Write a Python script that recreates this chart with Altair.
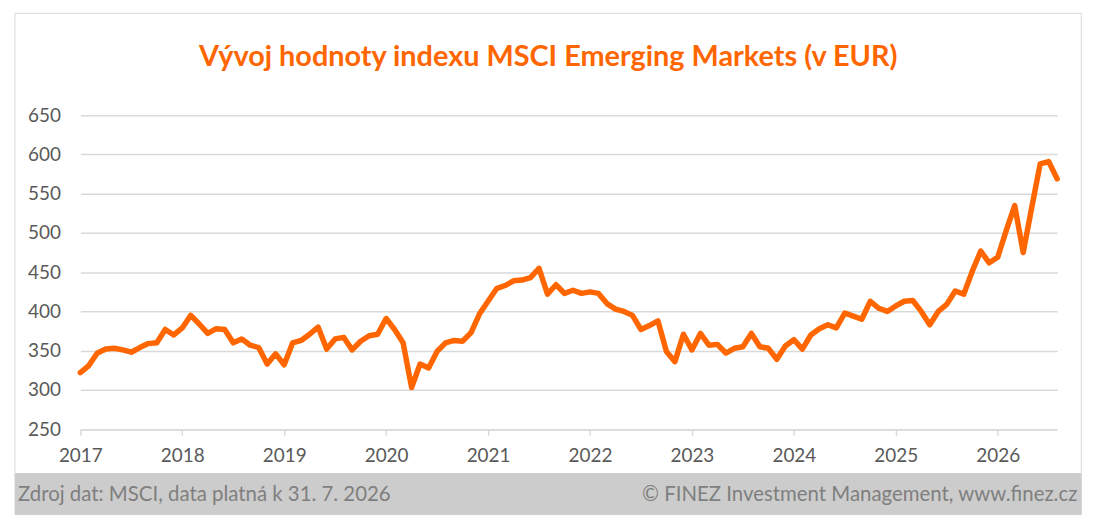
import altair as alt
import pandas as pd

# ---- data (monthly index values, Jan 2017 .. Jul/Aug 2026) ----
years = list(range(2017, 2027))
values = [
    322, 331, 347, 352, 353, 351, 348, 354, 359, 360, 377, 370, 379, 395, 384, 372, 378, 377, 360, 365, 357,
    354, 333, 346, 332, 360, 363, 371, 380, 352, 365, 367, 351, 362, 369, 371, 391, 377, 360, 303,
    333, 328, 349, 360, 363, 362, 373, 397, 413, 429, 433, 439, 440, 443, 455, 422, 434, 423, 427, 423,
    425, 423, 410, 403, 400, 395, 377, 382, 388, 349, 336, 371, 351, 372, 357, 358, 347, 353, 355, 372,
    355, 353, 339, 356, 364, 352, 370, 378, 383, 379, 398, 394, 390, 413, 404, 400, 407, 413, 414, 400,
    383, 400, 409, 426, 422, 451, 477, 462, 469, 503, 535, 475, 532, 588, 591, 569,
]
month_index = list(range(len(values)))
year_ticks = [12 * (y - years[0]) for y in years]
y_ticks = list(range(250, 651, 50))

title_text = "Vývoj hodnoty indexu MSCI Emerging Markets (v EUR)"
source_text = "Zdroj dat: MSCI, data platná k 31. 7. 2026"
copyright_text = "© FINEZ Investment Management, www.finez.cz"

df = pd.DataFrame({"m": month_index, "v": values})
dummy = pd.DataFrame({"k": [0]})

W, H = 982, 315.5
FONT = "Lato"
ORANGE = "#FF6600"
GRID = "#d9d9d9"

line = alt.Chart(df).mark_line(
    color=ORANGE, strokeWidth=5.5, strokeJoin="round", strokeCap="round"
).encode(
    x=alt.X(
        "m:Q",
        scale=alt.Scale(domain=[0, len(values) - 1], nice=False, zero=False),
        axis=alt.Axis(
            values=year_ticks,
            labelExpr="toString(2017 + datum.value / 12)",
            title=None,
            grid=False,
            domainColor=GRID,
            domainWidth=1.5,
            tickColor=GRID,
            tickWidth=1.5,
            tickSize=6,
            labelPadding=12,
            labelFlush=False,
            labelFont=FONT,
            labelFontSize=19,
            labelColor="#595959",
        ),
    ),
    y=alt.Y(
        "v:Q",
        scale=alt.Scale(domain=[250, 650], nice=False, zero=False),
        axis=alt.Axis(
            values=y_ticks,
            title=None,
            grid=True,
            gridColor=GRID,
            gridWidth=1.5,
            domain=False,
            ticks=False,
            labelPadding=20,
            labelFont=FONT,
            labelFontSize=19,
            labelColor="#595959",
        ),
    ),
)

frame = alt.Chart(dummy).mark_rect(fillOpacity=0, stroke=GRID, strokeWidth=1).encode(
    x=alt.value(-65.7), x2=alt.value(1006.3), y=alt.value(-102.5), y2=alt.value(401.5)
)
band = alt.Chart(dummy).mark_rect(fill="#cccccc").encode(
    x=alt.value(-65.7), x2=alt.value(1006.3), y=alt.value(359.5), y2=alt.value(401.5)
)
title = alt.Chart(dummy).mark_text(
    text=title_text, align="center", baseline="alphabetic", font=FONT,
    fontSize=29, fontWeight="bold", color=ORANGE
).encode(x=alt.value(470.3), y=alt.value(-50))
foot_l = alt.Chart(dummy).mark_text(
    text=source_text, align="left", baseline="alphabetic", font=FONT,
    fontSize=20.5, color="#7f7f7f"
).encode(x=alt.value(-62.7), y=alt.value(388))
foot_r = alt.Chart(dummy).mark_text(
    text=copyright_text, align="right", baseline="alphabetic", font=FONT,
    fontSize=20.5, color="#7f7f7f"
).encode(x=alt.value(1002.3), y=alt.value(388))

chart = alt.layer(frame, band, line, title, foot_l, foot_r).properties(
    width=W,
    height=H,
    background="white",
    autosize=alt.AutoSizeParams(type="none"),
    padding={"left": 72.7, "top": 106.5, "right": 30, "bottom": 90},
).configure_view(stroke="transparent")

chart.save("out.html", embed_options={"renderer": "svg", "actions": False})
